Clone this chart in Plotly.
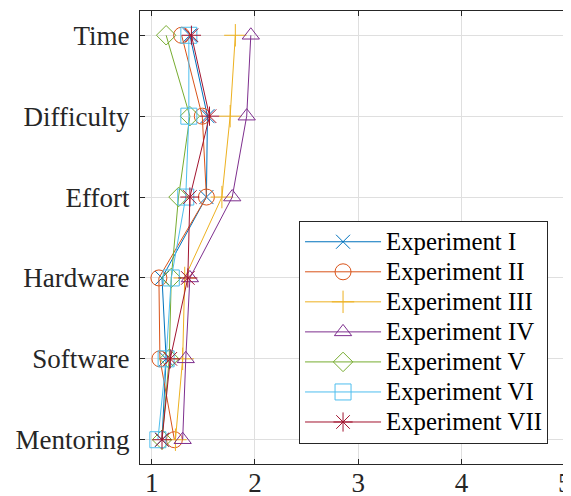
import plotly.graph_objects as go

categories = ["Time", "Difficulty", "Effort", "Hardware", "Software", "Mentoring"]
series_names = ["Experiment I", "Experiment II", "Experiment III", "Experiment IV",
                "Experiment V", "Experiment VI", "Experiment VII"]
exp_I = [1.37, 1.54, 1.53, 1.10, 1.14, 1.10]
exp_II = [1.29, 1.49, 1.53, 1.07, 1.08, 1.22]
exp_III = [1.81, 1.76, 1.68, 1.32, 1.30, 1.23]
exp_IV = [1.96, 1.92, 1.78, 1.37, 1.33, 1.30]
exp_V = [1.14, 1.37, 1.26, 1.19, 1.17, 1.10]
exp_VI = [1.36, 1.36, 1.33, 1.19, 1.14, 1.06]
exp_VII = [1.385, 1.56, 1.37, 1.35, 1.18, 1.10]
x_ticks = [1, 2, 3, 4, 5]

values = [exp_I, exp_II, exp_III, exp_IV, exp_V, exp_VI, exp_VII]
colors = ["#0072BD", "#D95319", "#EDB120", "#7E2F8E", "#77AC30", "#4DBEEE", "#A2142F"]
symbols = ["x-thin-open", "circle-open", "cross-thin-open", "triangle-up-open",
           "diamond-open", "square-open", "asterisk-open"]
sizes = [14, 16, 16, 15, 15, 16, 16]

ypos = [6, 5, 4, 3, 2, 1]

fig = go.Figure()
for name, vals, c, s, sz in zip(series_names, values, colors, symbols, sizes):
    fig.add_trace(go.Scatter(
        x=vals, y=ypos, mode="lines+markers",
        name='<span style="font-size:24.8px">' + name + '</span>',
        line=dict(color=c, width=1),
        marker=dict(symbol=s, size=sz, color=c, line=dict(color=c, width=1)),
    ))

font = "Liberation Serif"
# page body has an 8px default margin, so everything is shifted by -8px
fig.update_layout(
    width=571, height=496,
    margin=dict(l=132, r=8, t=3, b=40),
    plot_bgcolor="white", paper_bgcolor="white",
    font=dict(family=font, size=27, color="#262626"),
    showlegend=True,
    legend=dict(
        x=0.369, y=0.537, xanchor="left", yanchor="top",
        bgcolor="white", bordercolor="#262626", borderwidth=1,
        font=dict(family=font, size=20.8, color="black"),
        itemwidth=76, tracegroupgap=0,
    ),
    xaxis=dict(
        range=[0.887, 5.06], tickvals=x_ticks, ticktext=[str(v) for v in x_ticks],
        showgrid=True, gridcolor="#DFDFDF", gridwidth=1,
        showline=True, linecolor="#262626", linewidth=1, mirror="ticks",
        ticks="inside", ticklen=5, tickcolor="#262626", zeroline=False,
        automargin=False, ticklabelstandoff=-5,
    ),
    yaxis=dict(
        range=[0.7, 6.3], tickvals=ypos, ticktext=categories,
        showgrid=True, gridcolor="#DFDFDF", gridwidth=1,
        showline=True, linecolor="#262626", linewidth=1, mirror="ticks",
        ticks="inside", ticklen=5, tickcolor="#262626", zeroline=False,
        automargin=False, ticklabelstandoff=4,
    ),
)
fig.write_html("out.html")
